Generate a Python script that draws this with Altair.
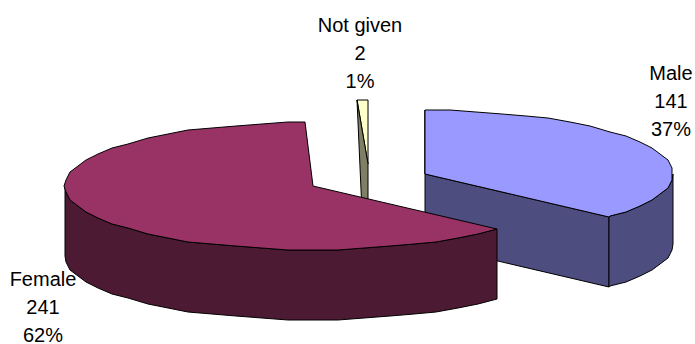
import math
import altair as alt

# Slice data
categories = ["Male", "Female", "Not given"]
counts = [141, 241, 2]
percent_labels = ["37%", "62%", "1%"]

# Pie geometry in pixels
RX, RY, DEPTH = 248, 64, 70
HUBS = {"Male": (425, 174), "Female": (313, 186), "Not given": (368, 164)}
LABEL_BASE = {"Male": (671, 80), "Female": (43, 286), "Not given": (360, 32)}
LINE_STEP = 28
ARC_STEP = 6
GRID = 2            # outlines snap to a coarse grid, giving the faceted rim
MIN_SLIVER = 2.6    # narrowest slice drawn, in degrees

W, H = 695, 344
total = sum(counts)
spans = {}
start = 0.0
for name, n in zip(categories, counts):
    spans[name] = (start, start + 360.0 * n / total)
    start = spans[name][1]


def snap(v):
    return round(v / GRID) * GRID


def rim(name, a0, a1, drop=0):
    """Points along the projected ellipse; inner angles sit on a shared lattice."""
    cx, cy = HUBS[name]
    lattice = [a for a in range(0, 361, ARC_STEP) if a0 < a < a1]
    pts = []
    for a in [a0] + lattice + [a1]:
        r = math.radians(a)
        x, y = cx + RX * math.sin(r), cy - RY * math.cos(r)
        # keep the two ends exact so the cut edges stay straight
        if a in lattice:
            x, y = snap(x), snap(y)
        pts.append([round(x), round(y) + drop])
    return pts


def face(name, kind, pts):
    return {
        "type": "Feature",
        "geometry": {"type": "Polygon", "coordinates": [pts + [pts[0]]]},
        "properties": {"face": f"{name} {kind}"},
    }


features = []

# Male: cut face, outer wall, top
a0, a1 = spans["Male"]
cx, cy = HUBS["Male"]
edge = rim("Male", a1, a1)[0]
features.append(face("Male", "side", [[cx, cy - RY], [cx, cy + DEPTH], [edge[0], edge[1] + DEPTH], edge, [cx, cy]]))
features.append(face("Male", "side", rim("Male", 90, a1) + rim("Male", 90, a1, DEPTH)[::-1]))
features.append(face("Male", "top", [[cx, cy]] + rim("Male", a0, a1)))

# Not given: narrow sliver with its cut face in front of the top
a0, a1 = spans["Not given"]
cx, cy = HUBS["Not given"]
outer = rim("Not given", a1 - max(a1 - a0, MIN_SLIVER), a1)
features.append(face("Not given", "top", [[cx, cy]] + outer))
features.append(face("Not given", "side", [outer[0], [cx, cy], [cx, cy + DEPTH], [outer[0][0] + 6, cy + DEPTH]]))

# Female: outer wall, then top
a0, a1 = spans["Female"]
cx, cy = HUBS["Female"]
features.append(face("Female", "side", rim("Female", a0, 270) + rim("Female", a0, 270, DEPTH)[::-1]))
features.append(face("Female", "top", [[cx, cy]] + rim("Female", a0, a1)))

face_names = [f"{c} {k}" for c in categories for k in ("top", "side")]
face_colors = ["#9999FF", "#4D4D7F", "#993366", "#4D1A33", "#FFFFCC", "#7F7F66"]

pie = (
    alt.Chart(alt.Data(values=features))
    .mark_geoshape(stroke="black", strokeWidth=1, strokeJoin="round")
    .encode(
        fill=alt.Fill(
            "properties.face:N",
            scale=alt.Scale(domain=face_names, range=face_colors),
            legend=None,
        )
    )
    .project(type="identity", scale=1, translate=[0, 0])
)

rows = []
for name, n, pct in zip(categories, counts, percent_labels):
    x, y = LABEL_BASE[name]
    for i, line in enumerate([name, str(n), pct]):
        rows.append({"line": line, "px": x, "py": y + i * LINE_STEP})

labels = (
    alt.Chart(alt.Data(values=rows))
    .mark_text(font="Liberation Sans", fontSize=20, color="black", align="center", baseline="alphabetic")
    .encode(
        x=alt.X("px:Q", scale=alt.Scale(domain=[0, W]), axis=None),
        y=alt.Y("py:Q", scale=alt.Scale(domain=[H, 0]), axis=None),
        text="line:N",
    )
)

chart = (
    alt.layer(pie, labels)
    .properties(width=W, height=H, padding=0, autosize=alt.AutoSizeParams(type="none"), background="white")
    .configure_view(stroke=None)
)

chart.save("out.html", embed_options={"renderer": "svg", "actions": False})
